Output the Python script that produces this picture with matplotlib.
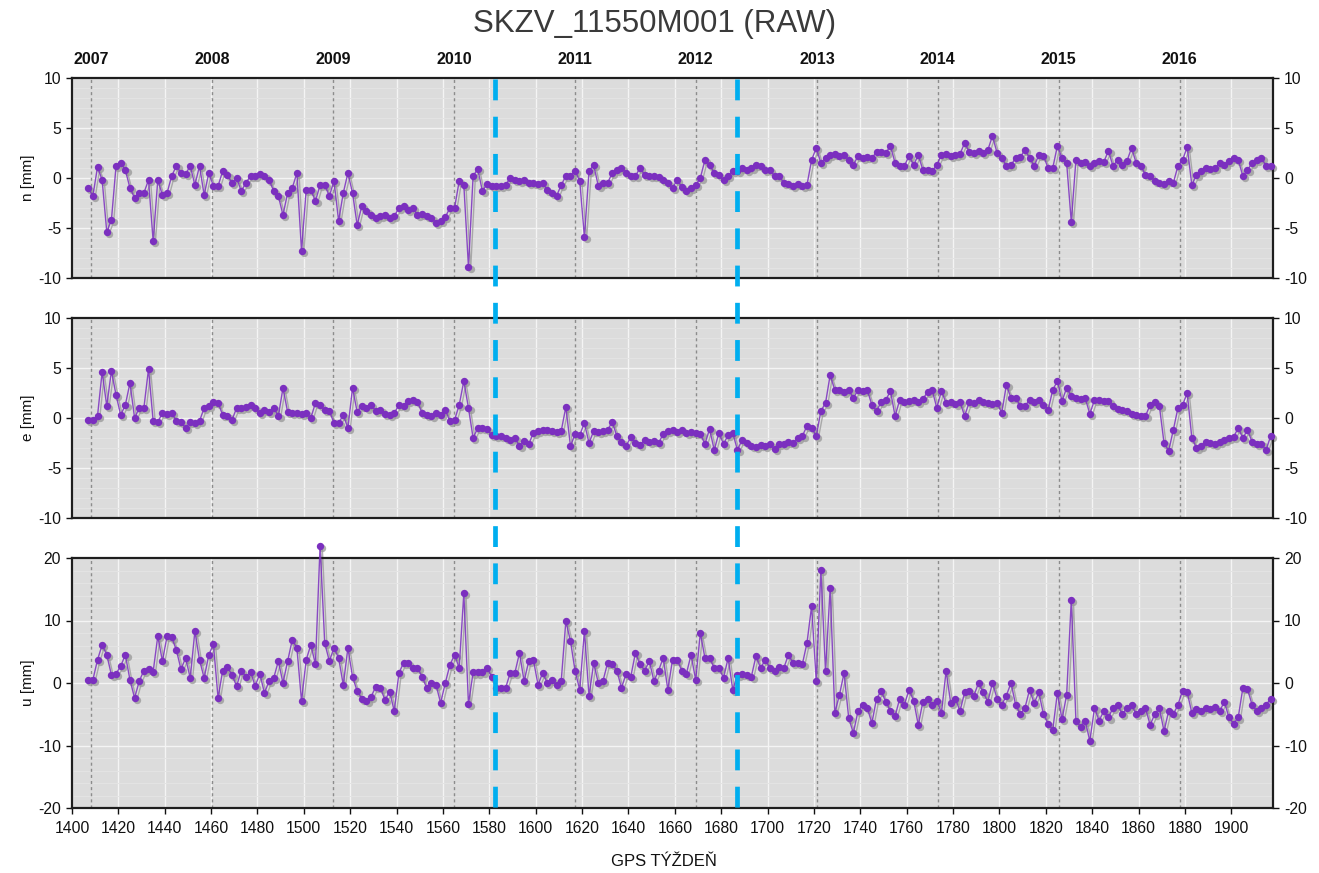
import numpy as np
import matplotlib
matplotlib.use('Agg')
import matplotlib.pyplot as plt
from matplotlib import font_manager, transforms
from matplotlib.lines import Line2D
from matplotlib.ticker import MultipleLocator

# ---------------- data (every 2nd GPS week) ----------------
week_start = 1407
week_step = 2

n_mm = [
    -1.0, -1.8, 1.1, -0.2, -5.4, -4.2, 1.2, 1.5, 0.8, -1.0,      # 1407-1425
    -2.0, -1.5, -1.5, -0.2, -6.3, -0.2, -1.7, -1.5, 0.2, 1.2,    # 1427-1445
    0.5, 0.4, 1.2, -0.7, 1.2, -1.7, 0.5, -0.8, -0.8, 0.7,        # 1447-1465
    0.3, -0.5, 0.0, -1.3, -0.5, 0.2, 0.2, 0.4, 0.2, -0.2,        # 1467-1485
    -1.3, -1.8, -3.7, -1.5, -1.0, 0.5, -7.3, -1.2, -1.2, -2.3,   # 1487-1505
    -0.7, -0.7, -1.8, -0.3, -4.3, -1.5, 0.5, -1.5, -4.7, -2.8,   # 1507-1525
    -3.3, -3.7, -4.0, -3.8, -3.7, -4.0, -3.8, -3.0, -2.8, -3.2,  # 1527-1545
    -3.0, -3.7, -3.6, -3.8, -4.0, -4.5, -4.3, -3.9, -3.0, -3.0,  # 1547-1565
    -0.3, -0.7, -8.9, 0.2, 0.9, -1.3, -0.6, -0.8, -0.8, -0.8,    # 1567-1585
    -0.7, 0.0, -0.2, -0.3, -0.2, -0.5, -0.5, -0.6, -0.5, -1.2,   # 1587-1605
    -1.5, -1.8, -0.7, 0.2, 0.2, 0.7, -0.3, -5.9, 0.7, 1.3,       # 1607-1625
    -0.8, -0.5, -0.5, 0.5, 0.8, 1.0, 0.5, 0.2, 0.2, 1.0,         # 1627-1645
    0.3, 0.2, 0.2, 0.1, -0.2, -0.5, -1.0, -0.2, -0.9, -1.3,      # 1647-1665
    -1.0, -0.7, 0.0, 1.8, 1.3, 0.5, 0.3, -0.2, 0.2, 0.7,         # 1667-1685
    0.7, 1.0, 0.8, 1.0, 1.3, 1.2, 0.8, 0.8, 0.2, 0.2,            # 1687-1705
    -0.5, -0.6, -0.8, -0.6, -0.8, -0.7, 1.8, 3.0, 1.5, 2.0,      # 1707-1725
    2.3, 2.4, 2.2, 2.3, 1.8, 1.3, 2.2, 2.0, 2.1, 2.0,            # 1727-1745
    2.6, 2.6, 2.5, 3.2, 1.5, 1.2, 1.2, 2.2, 1.3, 2.3,            # 1747-1765
    0.8, 0.8, 0.7, 1.3, 2.3, 2.4, 2.2, 2.3, 2.4, 3.5,            # 1767-1785
    2.6, 2.5, 2.7, 2.5, 2.8, 4.2, 2.5, 2.0, 1.2, 1.3,            # 1787-1805
    2.0, 2.1, 2.8, 2.0, 1.2, 2.3, 2.2, 1.0, 1.0, 3.2,            # 1807-1825
    2.0, 1.5, -4.4, 1.8, 1.5, 1.6, 1.2, 1.5, 1.7, 1.6,           # 1827-1845
    2.7, 1.2, 1.8, 1.3, 1.7, 3.0, 1.5, 1.2, 0.3, 0.2,            # 1847-1865
    -0.3, -0.5, -0.6, -0.3, -0.5, 1.2, 1.8, 3.1, -0.7, 0.3,      # 1867-1885
    0.7, 1.0, 0.9, 1.0, 1.5, 1.3, 1.7, 2.0, 1.8, 0.2,            # 1887-1905
    0.8, 1.5, 1.8, 2.0, 1.2, 1.2,                                # 1907-1917
]

e_mm = [
    -0.2, -0.2, 0.2, 4.6, 1.2, 4.7, 2.3, 0.3, 1.3, 3.5,          # 1407-1425
    0.0, 1.0, 1.0, 4.9, -0.3, -0.4, 0.5, 0.4, 0.5, -0.3,         # 1427-1445
    -0.4, -1.0, -0.4, -0.5, -0.3, 1.0, 1.2, 1.6, 1.5, 0.3,       # 1447-1465
    0.2, -0.2, 1.0, 1.0, 1.1, 1.3, 1.0, 0.5, 0.8, 0.6,           # 1467-1485
    1.0, 0.2, 3.0, 0.6, 0.5, 0.5, 0.4, 0.5, 0.0, 1.5,            # 1487-1505
    1.3, 0.8, 0.7, -0.5, -0.5, 0.3, -1.0, 3.0, 0.6, 1.2,         # 1507-1525
    1.0, 1.3, 0.7, 0.8, 0.4, 0.3, 0.5, 1.3, 1.2, 1.7,            # 1527-1545
    1.8, 1.6, 0.5, 0.3, 0.2, 0.5, 0.3, 0.8, -0.3, -0.2,          # 1547-1565
    1.3, 3.7, 1.0, -2.0, -1.0, -1.0, -1.1, -1.7, -1.8, -1.8,     # 1567-1585
    -2.0, -2.2, -2.0, -2.8, -2.3, -2.6, -1.5, -1.3, -1.2, -1.2,  # 1587-1605
    -1.3, -1.4, -1.3, 1.1, -2.8, -1.6, -1.7, -0.5, -2.5, -1.3,   # 1607-1625
    -1.4, -1.3, -1.2, -0.4, -1.8, -2.4, -2.8, -1.9, -2.5, -2.7,  # 1627-1645
    -2.2, -2.4, -2.3, -2.5, -1.6, -1.3, -1.2, -1.4, -1.2, -1.5,  # 1647-1665
    -1.4, -1.5, -1.6, -2.6, -1.1, -3.2, -1.5, -2.6, -1.7, -1.5,  # 1667-1685
    -3.2, -2.2, -2.5, -2.8, -2.9, -2.7, -2.8, -2.6, -3.1, -2.6,  # 1687-1705
    -2.6, -2.4, -2.5, -2.0, -1.8, -0.8, -1.0, -1.8, 0.7, 1.5,    # 1707-1725
    4.3, 2.8, 2.8, 2.6, 2.8, 2.0, 2.8, 2.7, 2.8, 1.3,            # 1727-1745
    0.7, 1.6, 1.8, 2.7, 0.2, 1.8, 1.6, 1.7, 1.8, 1.6,            # 1747-1765
    1.9, 2.6, 2.8, 1.0, 2.7, 1.5, 1.6, 1.4, 1.6, 0.2,            # 1767-1785
    1.6, 1.5, 1.8, 1.6, 1.5, 1.4, 1.5, 0.5, 3.3, 2.0,            # 1787-1805
    2.0, 1.2, 1.2, 1.8, 1.6, 1.8, 1.3, 0.8, 2.8, 3.7,            # 1807-1825
    1.7, 3.0, 2.2, 2.0, 1.9, 2.0, 0.4, 1.8, 1.8, 1.7,            # 1827-1845
    1.7, 1.2, 0.9, 0.8, 0.7, 0.4, 0.3, 0.2, 0.2, 1.3,            # 1847-1865
    1.6, 1.2, -2.5, -3.3, -1.2, 1.0, 1.3, 2.5, -2.0, -3.0,       # 1867-1885
    -2.8, -2.4, -2.5, -2.6, -2.4, -2.2, -2.0, -1.9, -1.0, -2.0,  # 1887-1905
    -1.2, -2.4, -2.6, -2.6, -3.2, -1.8,                          # 1907-1917
]

u_mm = [
    0.5, 0.5, 3.7, 6.1, 4.5, 1.3, 1.5, 2.7, 4.5, 0.5,            # 1407-1425
    -2.4, 0.3, 2.0, 2.2, 1.8, 7.5, 3.5, 7.5, 7.3, 5.3,           # 1427-1445
    2.2, 4.0, 0.8, 8.3, 3.7, 0.8, 4.5, 6.2, -2.4, 2.0,           # 1447-1465
    2.5, 1.3, -0.5, 2.0, 1.0, 1.8, -0.5, 1.5, -1.6, 0.3,         # 1467-1485
    0.8, 3.5, 0.0, 3.5, 6.9, 5.6, -2.9, 3.7, 6.1, 3.0,           # 1487-1505
    22.0, 6.4, 3.5, 5.6, 4.0, -0.3, 5.6, 1.0, -1.3, -2.5,        # 1507-1525
    -2.9, -2.2, -0.6, -0.8, -2.7, -1.4, -4.5, 1.6, 3.2, 3.2,     # 1527-1545
    2.4, 2.4, 1.0, -0.8, 0.0, -0.3, -3.2, 0.0, 2.9, 4.5,         # 1547-1565
    2.4, 14.4, -3.4, 1.7, 1.7, 1.8, 2.4, 1.0, -0.8, -0.8,        # 1567-1585
    -0.8, 1.6, 1.6, 4.8, 0.3, 3.5, 3.7, -0.3, 1.6, 0.0,          # 1587-1605
    0.5, -0.3, 0.3, 9.9, 6.7, 1.9, -1.1, 8.3, -2.1, 3.2,         # 1607-1625
    0.0, 0.3, 3.2, 3.0, 2.0, -0.8, 1.5, 1.0, 4.8, 3.0,           # 1627-1645
    2.0, 3.5, 0.3, 2.0, 4.0, -1.1, 3.7, 3.7, 2.0, 1.5,           # 1647-1665
    4.5, 0.5, 8.0, 4.0, 4.0, 2.4, 2.4, 0.8, 4.0, -1.1,           # 1667-1685
    1.3, 1.5, 1.3, 1.0, 4.3, 2.4, 3.7, 2.4, 2.0, 2.5,            # 1687-1705
    2.4, 4.5, 3.2, 3.2, 3.0, 6.4, 12.3, 0.3, 18.1, 1.9,          # 1707-1725
    15.2, -4.8, -1.9, 1.6, -5.6, -8.0, -4.5, -3.5, -4.0, -6.4,   # 1727-1745
    -2.5, -1.3, -3.0, -4.5, -5.3, -2.5, -3.5, -1.1, -2.8, -6.7,  # 1747-1765
    -3.0, -2.5, -3.5, -2.8, -4.8, 1.9, -3.2, -2.5, -4.5, -1.5,   # 1767-1785
    -1.3, -2.0, 0.0, -1.5, -3.0, 0.0, -2.5, -3.5, -2.0, 0.0,     # 1787-1805
    -3.5, -5.0, -4.0, -1.1, -3.2, -1.5, -5.0, -6.5, -7.5, -1.6,  # 1807-1825
    -5.8, -1.9, 13.3, -6.0, -7.0, -6.0, -9.3, -4.0, -6.0, -4.5,  # 1827-1845
    -5.5, -4.0, -3.5, -5.0, -4.0, -3.5, -5.0, -4.5, -4.0, -6.7,  # 1847-1865
    -5.0, -4.0, -7.7, -4.5, -5.0, -3.5, -1.2, -1.5, -4.8, -4.2,  # 1867-1885
    -4.5, -4.0, -4.2, -3.8, -4.5, -3.0, -5.5, -6.5, -5.5, -0.8,  # 1887-1905
    -1.0, -3.5, -4.5, -4.0, -3.5, -2.5,                          # 1907-1917
]

years = ['2007', '2008', '2009', '2010', '2011', '2012', '2013', '2014', '2015', '2016']
year_weeks = [1408.1, 1460.3, 1512.6, 1564.7, 1616.9, 1669.0, 1721.3, 1773.4, 1825.6, 1877.7]
break_weeks = [1582.6, 1687.0]
x_ticks = list(range(1400, 1901, 20))
title_text = 'SKZV_11550M001 (RAW)'
xlabel_text = 'GPS TÝŽDEŇ'
panel_labels = ['n [mm]', 'e [mm]', 'u [mm]']
panel_ticks = [[-10, -5, 0, 5, 10], [-10, -5, 0, 5, 10], [-20, -10, 0, 10, 20]]

# ---------------- style ----------------
avail = {f.name for f in font_manager.fontManager.ttflist}
if 'Liberation Sans Narrow' in avail:
    tick_font, tick_size = 'Liberation Sans Narrow', 13
else:
    tick_font, tick_size = 'Liberation Sans', 11.3
plt.rcParams['font.family'] = [tick_font, 'Liberation Sans', 'DejaVu Sans']
plt.rcParams['axes.unicode_minus'] = False
plt.rcParams['lines.scale_dashes'] = False

W, H = 1319, 873
fig = plt.figure(figsize=(W / 100, H / 100), dpi=100)
fig.patch.set_facecolor('white')

left = 72 / W
width = (1273 - 72) / W
rects = [
    (left, 1 - 278 / H, width, 200 / H),
    (left, 1 - 518 / H, width, 200 / H),
    (left, 1 - 808 / H, width, 250 / H),
]
series = [n_mm, e_mm, u_mm]
minor_steps = [1, 1, 2]
label_centers = [178, 418, 683]

purple = '#7b2fbf'
axes = []
for i, rect in enumerate(rects):
    ax = fig.add_axes(rect)
    axes.append(ax)
    vals = np.array(series[i], dtype=float)
    weeks = week_start + week_step * np.arange(len(vals))
    ax.set_facecolor('#dcdcdc')
    ax.set_xlim(1400, 1918)
    yt = panel_ticks[i]
    ax.set_ylim(yt[0], yt[-1])
    ax.set_yticks(yt)
    ax.set_yticklabels([str(t) for t in yt])
    ax.set_xticks(x_ticks)
    ax.yaxis.set_minor_locator(MultipleLocator(minor_steps[i]))
    ax.grid(True, which='major', color='#f4f4f4', lw=1.0, zorder=0)
    ax.grid(True, which='minor', axis='y', color='#e4e4e4', lw=0.7, zorder=0)
    ax.set_axisbelow(True)
    for yw in year_weeks:
        ax.axvline(yw, color='#8c8c8c', lw=1.0, ls=(0, (2.2, 2.2)), zorder=1)
    # drop shadow
    shadow = transforms.offset_copy(ax.transData, fig=fig, x=2.2, y=-2.2, units='dots')
    ax.plot(weeks, vals, color='#979797', lw=1.0, marker='o', ms=5.3, mew=0,
            alpha=0.75, transform=shadow, zorder=2, clip_on=False)
    ax.plot(weeks, vals, color=purple, lw=1.0, alpha=0.85, zorder=3, clip_on=False)
    ax.plot(weeks, vals, ls='none', color=purple, marker='o', ms=5.3, mew=0,
            zorder=4, clip_on=False)
    for s in ax.spines.values():
        s.set_color('#1e1e1e')
        s.set_linewidth(1.6)
    ax.tick_params(axis='y', which='major', direction='out', length=4, width=1,
                   left=True, right=True, labelleft=True, labelright=True,
                   labelsize=tick_size, pad=4, colors='#111111')
    ax.tick_params(axis='y', which='minor', length=0)
    if i < 2:
        ax.tick_params(axis='x', which='both', bottom=False, labelbottom=False, length=0)
    else:
        ax.tick_params(axis='x', which='major', direction='out', length=4.5, width=1,
                       bottom=True, labelbottom=True, labelsize=tick_size, pad=5,
                       colors='#111111')
        ax.set_xticklabels([str(t) for t in x_ticks])
    fig.text(28 / W, 1 - label_centers[i] / H, panel_labels[i], rotation=90,
             ha='center', va='center', fontsize=11, color='#111111')

# year labels on top of first panel
ax_n = axes[0]
ytrans = transforms.blended_transform_factory(ax_n.transData, fig.transFigure)
for lab, yw in zip(years, year_weeks):
    ax_n.text(yw, 1 - 60 / H, lab, transform=ytrans, ha='center', va='center',
              fontsize=11.5, fontweight='bold', color='#111111', clip_on=False)

# title and x label
fig.text(655 / W, 1 - 24 / H, title_text, ha='center', va='center',
         fontsize=22.5, color='#3a3a3a', family=['Liberation Sans', 'DejaVu Sans'])
fig.text(664 / W, 1 - 862 / H, xlabel_text, ha='center', va='center',
         fontsize=12, color='#111111', family=['Liberation Sans', 'DejaVu Sans'])

# blue dashed break lines spanning all panels
ax_u = axes[2]
inv = fig.transFigure.inverted()
for bw in break_weeks:
    xd = ax_u.transData.transform((bw, 0))[0]
    xf = inv.transform((xd, 0))[0]
    fig.add_artist(Line2D([xf, xf], [1 - 79 / H, 1 - 808 / H], transform=fig.transFigure,
                          color='#00aeef', lw=3.4, ls=(0, (15.0, 11.8)), zorder=20,
                          solid_capstyle='butt', dash_capstyle='butt'))

fig.savefig('out.png', dpi=100, facecolor='white')
